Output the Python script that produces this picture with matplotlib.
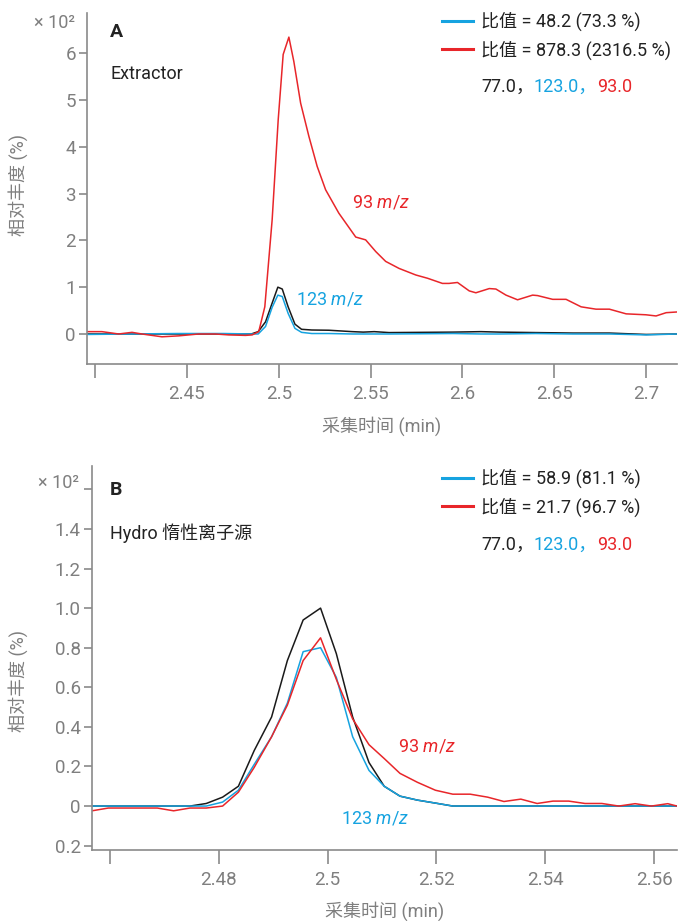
import matplotlib
matplotlib.use("Agg")
import matplotlib.pyplot as plt
from matplotlib.lines import Line2D

plt.rcParams["font.family"] = ["Roboto", "Noto Sans CJK SC", "DejaVu Sans"]
plt.rcParams["mathtext.fontset"] = "custom"
plt.rcParams["mathtext.rm"] = "Roboto"
plt.rcParams["mathtext.it"] = "Roboto:italic"

# ---------- Daten Panel A (Extractor) ----------
tA_red = [2.3956, 2.4037, 2.4074, 2.4128, 2.4201, 2.4255, 2.4364, 2.4455, 2.4564,
          2.4655, 2.4728, 2.4819, 2.4855, 2.4891, 2.4924, 2.4964, 2.4997, 2.5024,
          2.5055, 2.5082, 2.5119, 2.5164, 2.5209, 2.5255, 2.5327, 2.5419, 2.5473,
          2.5528, 2.5582, 2.5655, 2.5746, 2.5810, 2.5891, 2.5927, 2.5973, 2.6037,
          2.6073, 2.6146, 2.6182, 2.6237, 2.6300, 2.6382, 2.6409, 2.6491, 2.6564,
          2.6646, 2.6727, 2.6800, 2.6891, 2.6999, 2.7054, 2.7109, 2.7168]
yA_red = [0.05, 0.05, 0.03, 0.0, 0.035, 0.0, -0.06, -0.04, 0.0,
          0.0, -0.02, -0.03, -0.02, 0.05, 0.58, 2.44, 4.58, 5.97,
          6.34, 5.82, 4.93, 4.22, 3.58, 3.08, 2.58, 2.07, 2.01,
          1.76, 1.55, 1.40, 1.26, 1.19, 1.08, 1.08, 1.10, 0.92,
          0.88, 0.97, 0.96, 0.83, 0.73, 0.83, 0.82, 0.74, 0.74,
          0.58, 0.53, 0.53, 0.43, 0.41, 0.385, 0.455, 0.47]

tA = [2.3956, 2.4200, 2.4450, 2.4700, 2.4850, 2.4888, 2.4928, 2.4964, 2.4995,
      2.5019, 2.5051, 2.5088, 2.5124, 2.5180, 2.5273, 2.5400, 2.5460, 2.5520,
      2.5600, 2.5950, 2.6100, 2.6200, 2.6400, 2.6600, 2.6800, 2.7000, 2.7168]
yA_black = [0.0, 0.0, 0.0, 0.0, 0.0, 0.05, 0.26, 0.66, 1.0,
            0.96, 0.58, 0.21, 0.10, 0.085, 0.08, 0.05, 0.04, 0.05,
            0.03, 0.04, 0.05, 0.04, 0.03, 0.02, 0.02, -0.01, 0.0]
yA_blue = [-0.01, 0.0, 0.01, 0.01, 0.0, 0.0, 0.16, 0.57, 0.83,
           0.80, 0.44, 0.12, 0.035, 0.01, 0.01, 0.0, 0.0, 0.0,
           0.0, 0.01, 0.0, 0.0, 0.01, 0.0, 0.0, -0.02, 0.0]

# ---------- Daten Panel B (Hydro) ----------
tB = [2.4567, 2.4597, 2.4627, 2.4657, 2.4687, 2.4717, 2.4747, 2.4777, 2.4807,
      2.4836, 2.4865, 2.4897, 2.4926, 2.4955, 2.4987, 2.5016, 2.5046, 2.5076,
      2.5104, 2.5133, 2.5165, 2.5198, 2.5230, 2.5262, 2.5294, 2.5324, 2.5355,
      2.5385, 2.5414, 2.5443, 2.5473, 2.5504, 2.5535, 2.5565, 2.5595, 2.5625,
      2.5642]
yB_red = [-0.024, -0.01, -0.01, -0.01, -0.01, -0.024, -0.01, -0.01, 0.0,
          0.07, 0.195, 0.35, 0.51, 0.735, 0.85, 0.64, 0.44, 0.31,
          0.24, 0.165, 0.12, 0.08, 0.06, 0.06, 0.045, 0.023, 0.035,
          0.013, 0.025, 0.025, 0.013, 0.013, 0.0, 0.012, 0.0, 0.012,
          0.0]
yB_blue = [0.0, 0.0, 0.0, 0.0, 0.0, 0.0, 0.0, 0.0, 0.02,
           0.08, 0.21, 0.35, 0.52, 0.78, 0.80, 0.65, 0.35, 0.18,
           0.10, 0.05, 0.03, 0.015, 0.0, 0.0, 0.0, 0.0, 0.0,
           0.0, 0.0, 0.0, 0.0, 0.0, 0.0, 0.0, 0.0, 0.0,
           0.0]
yB_black = [0.0, 0.0, 0.0, 0.0, 0.0, 0.0, 0.0, 0.013, 0.045,
            0.10, 0.28, 0.45, 0.735, 0.94, 1.0, 0.77, 0.45, 0.22,
            0.10, 0.05, 0.03, 0.015, 0.0, 0.0, 0.0, 0.0, 0.0,
            0.0, 0.0, 0.0, 0.0, 0.0, 0.0, 0.0, 0.0, 0.0,
            0.0]

# ---------- Achsen / Texte ----------
xticks_A = [2.40, 2.45, 2.50, 2.55, 2.60, 2.65, 2.70]
xlabels_A = ["", "2.45", "2.5", "2.55", "2.6", "2.65", "2.7"]
yticks_A = [0, 1, 2, 3, 4, 5, 6]
ylabels_A = ["0", "1", "2", "3", "4", "5", "6"]

xticks_B = [2.46, 2.48, 2.50, 2.52, 2.54, 2.56]
xlabels_B = ["", "2.48", "2.5", "2.52", "2.54", "2.56"]
yticks_B = [-0.2, 0.0, 0.2, 0.4, 0.6, 0.8, 1.0, 1.2, 1.4, 1.6]
ylabels_B = ["0.2", "0", "0.2", "0.4", "0.6", "0.8", "1.0", "1.2", "1.4", ""]

legend_A = ["比值 = 48.2 (73.3 %)", "比值 = 878.3 (2316.5 %)"]
legend_B = ["比值 = 58.9 (81.1 %)", "比值 = 21.7 (96.7 %)"]
ions = ["77.0，", "123.0，", "93.0"]

RED = "#e8262a"
BLUE = "#16a3e0"
BLACK = "#1a1a1a"
GRAY = "#7f7f7f"
TXT = "#222222"
FS = 13

fig = plt.figure(figsize=(6.81, 9.21), dpi=100)
axA = fig.add_axes([87 / 681, 1 - 364 / 921, 590 / 681, 351 / 921])
axB = fig.add_axes([92 / 681, 1 - 850 / 921, 585 / 681, 384 / 921])


def style_axis(ax, xt, xl, yt, yl):
    for s in ["top", "right"]:
        ax.spines[s].set_visible(False)
    for s in ["left", "bottom"]:
        ax.spines[s].set_color("#8a8a8a")
        ax.spines[s].set_linewidth(1.2)
    ax.set_xticks(xt)
    ax.set_xticklabels(xl)
    ax.set_yticks(yt)
    ax.set_yticklabels(yl)
    ax.tick_params(axis="x", length=10, width=1.2, color="#8a8a8a",
                   labelcolor=GRAY, labelsize=FS + 0.5, pad=5)
    ax.tick_params(axis="y", length=6, width=1.2, color="#8a8a8a",
                   labelcolor=GRAY, labelsize=FS + 0.5, pad=2)
    ax.set_xlabel("采集时间 (min)", color=GRAY, fontsize=FS)
    ax.set_ylabel("相对丰度 (%)", color=GRAY, fontsize=FS)


def legend_block(ax, labels, y_top):
    handles = [Line2D([], [], color=BLUE, lw=2.2),
               Line2D([], [], color=RED, lw=2.2)]
    ax.legend(handles, labels, loc="upper left",
              bbox_to_anchor=(442 / 681, y_top), bbox_transform=fig.transFigure,
              frameon=False, fontsize=FS, handlelength=1.72, handletextpad=0.45,
              labelspacing=0.5, borderpad=0, borderaxespad=0, labelcolor=TXT)


def ion_row(ax, y_frac):
    t = ax.text(481 / 681, y_frac, ions[0], transform=fig.transFigure,
                color=TXT, fontsize=FS, va="center", ha="left")
    t = ax.annotate(ions[1], xy=(1, 0), xycoords=t, va="bottom", ha="left",
                    color=BLUE, fontsize=FS)
    ax.annotate(ions[2], xy=(1, 0), xycoords=t, va="bottom", ha="left",
                color=RED, fontsize=FS)


# ---------- Panel A ----------
axA.plot(tA, yA_black, color=BLACK, lw=1.1)
axA.plot(tA, yA_blue, color=BLUE, lw=1.1)
axA.plot(tA_red, yA_red, color=RED, lw=1.1)
axA.set_xlim(2.3956, 2.7168)
axA.set_ylim(-0.641, 6.855)
style_axis(axA, xticks_A, xlabels_A, yticks_A, ylabels_A)
axA.xaxis.set_label_coords(0.5, -52 / 351)
axA.yaxis.set_label_coords(-59 / 590, 0.51)
axA.text(110 / 681, 1 - 32 / 921, "A", transform=fig.transFigure, fontsize=FS + 1,
         fontweight="bold", color=TXT, va="center")
axA.text(110 / 681, 1 - 74 / 921, "Extractor", transform=fig.transFigure,
         fontsize=FS, color=TXT, va="center")
axA.annotate("× 10²", xy=(0, 6.65), xycoords=("axes fraction", "data"),
             xytext=(-9, 0), textcoords="offset points", ha="right",
             va="center", color=GRAY, fontsize=FS)
axA.text(2.5399, 2.80, r"93 $\mathit{m/z}$", color=RED, fontsize=FS,
         va="center", ha="left")
axA.text(2.5093, 0.727, r"123 $\mathit{m/z}$", color=BLUE, fontsize=FS,
         va="center", ha="left")
legend_block(axA, legend_A, 1 - 12 / 921)
ion_row(axA, 1 - 87 / 921)

# ---------- Panel B ----------
axB.plot(tB, yB_black, color=BLACK, lw=1.1)
axB.plot(tB, yB_blue, color=BLUE, lw=1.1)
axB.plot(tB, yB_red, color=RED, lw=1.1)
axB.set_xlim(2.4567, 2.5642)
axB.set_ylim(-0.222, 1.718)
style_axis(axB, xticks_B, xlabels_B, yticks_B, ylabels_B)
axB.xaxis.set_label_coords(0.5, -51 / 384)
axB.yaxis.set_label_coords(-64 / 585, 0.44)
axB.text(110 / 681, 1 - 490 / 921, "B", transform=fig.transFigure, fontsize=FS + 1,
         fontweight="bold", color=TXT, va="center")
axB.text(110 / 681, 1 - 533 / 921, "Hydro 惰性离子源", transform=fig.transFigure,
         fontsize=FS, color=TXT, va="center")
axB.annotate("× 10²", xy=(0, 1.632), xycoords=("axes fraction", "data"),
             xytext=(-9, 0), textcoords="offset points", ha="right",
             va="center", color=GRAY, fontsize=FS)
axB.text(2.5130, 0.30, r"93 $\mathit{m/z}$", color=RED, fontsize=FS,
         va="center", ha="left")
axB.text(2.5025, -0.064, r"123 $\mathit{m/z}$", color=BLUE, fontsize=FS,
         va="center", ha="left")
legend_block(axB, legend_B, 1 - 469 / 921)
ion_row(axB, 1 - 545 / 921)

fig.savefig("out.png", dpi=100)
